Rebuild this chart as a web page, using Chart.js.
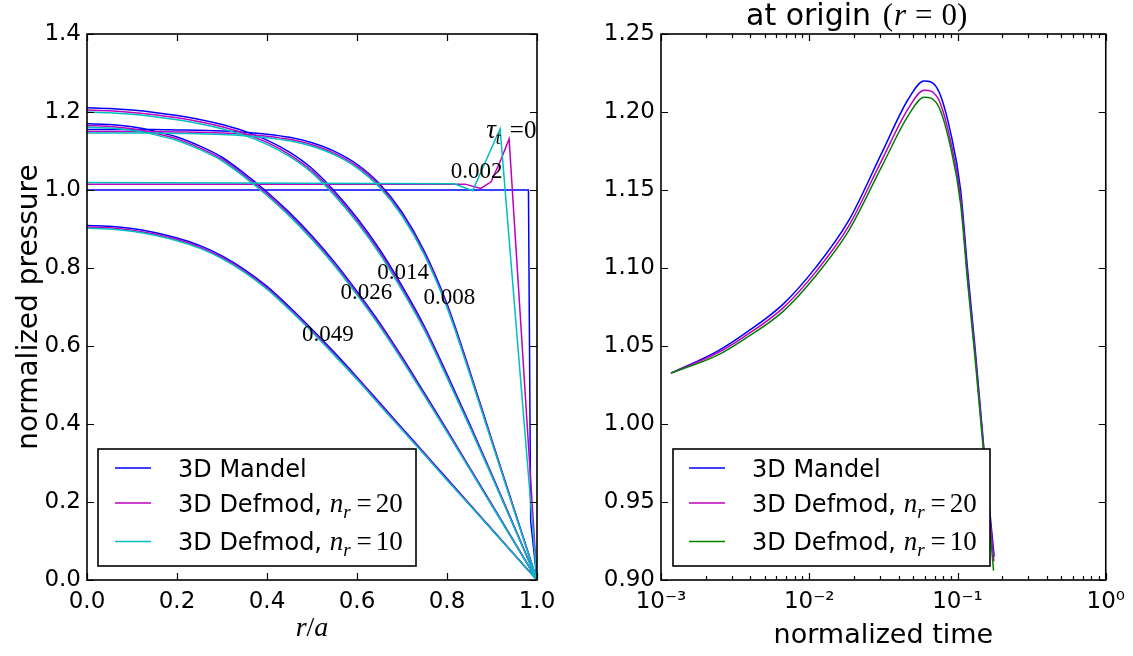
<!DOCTYPE html>
<html><head><meta charset="utf-8">
<script src="https://cdn.jsdelivr.net/npm/chart.js@4/dist/chart.umd.min.js"></script>
<style>
html,body{margin:0;padding:0;background:#fff;}
#wrap{position:relative;width:1133px;height:656px;background:#fff;}
#c1{position:absolute;left:0;top:0;}
#c2{position:absolute;left:566px;top:0;}
</style></head><body>
<div id="wrap"><canvas id="c1" width="566" height="656"></canvas><canvas id="c2" width="567" height="656"></canvas></div>
<script>
// ---------- LEFT PANEL DATA (normalized pressure vs r/a) ----------
const rGrid = [0,0.05,0.1,0.15,0.2,0.25,0.3,0.35,0.4,0.45,0.5,0.55,0.6,0.65,0.7,0.75,0.8,0.85,0.9,0.95,1.0];
// tau = 0.008
const p_mandel_0008 = [1.155,1.155,1.155,1.155,1.154,1.153,1.151,1.148,1.143,1.135,1.121,1.099,1.066,1.016,0.943,0.842,0.708,0.538,0.358,0.179,0];
const p_nr20_0008   = [1.150,1.150,1.150,1.150,1.149,1.148,1.146,1.143,1.138,1.130,1.116,1.094,1.061,1.011,0.938,0.837,0.703,0.534,0.355,0.177,0];
const p_nr10_0008   = [1.146,1.146,1.146,1.146,1.145,1.144,1.142,1.139,1.134,1.126,1.112,1.090,1.057,1.007,0.934,0.833,0.699,0.530,0.352,0.175,0];
// tau = 0.014
const p_mandel_0014 = [1.211,1.209,1.205,1.199,1.191,1.181,1.168,1.151,1.128,1.097,1.055,0.997,0.928,0.848,0.754,0.650,0.528,0.401,0.270,0.136,0];
const p_nr20_0014   = [1.205,1.203,1.199,1.193,1.185,1.175,1.162,1.145,1.122,1.091,1.049,0.991,0.922,0.842,0.748,0.645,0.523,0.397,0.267,0.134,0];
const p_nr10_0014   = [1.200,1.198,1.194,1.188,1.180,1.170,1.157,1.140,1.117,1.086,1.044,0.986,0.917,0.837,0.743,0.640,0.519,0.394,0.265,0.133,0];
// tau = 0.026
const p_mandel_0026 = [1.170,1.168,1.162,1.151,1.136,1.113,1.084,1.042,0.995,0.942,0.882,0.815,0.740,0.660,0.572,0.479,0.385,0.289,0.193,0.097,0];
const p_nr20_0026   = [1.165,1.163,1.157,1.146,1.131,1.108,1.079,1.037,0.990,0.937,0.877,0.810,0.735,0.655,0.568,0.475,0.382,0.287,0.191,0.096,0];
const p_nr10_0026   = [1.161,1.159,1.153,1.142,1.127,1.104,1.075,1.033,0.986,0.933,0.873,0.806,0.731,0.651,0.564,0.472,0.379,0.285,0.190,0.095,0];
// tau = 0.049
const p_mandel_0049 = [0.909,0.907,0.901,0.891,0.877,0.858,0.831,0.796,0.753,0.700,0.643,0.583,0.520,0.455,0.390,0.325,0.260,0.195,0.130,0.065,0];
const p_nr20_0049   = [0.905,0.903,0.897,0.887,0.873,0.854,0.827,0.792,0.749,0.696,0.639,0.579,0.517,0.452,0.387,0.323,0.258,0.194,0.129,0.064,0];
const p_nr10_0049   = [0.902,0.900,0.894,0.884,0.870,0.851,0.824,0.789,0.746,0.693,0.636,0.576,0.514,0.449,0.385,0.321,0.256,0.192,0.128,0.064,0];
// tau = 0
const r_t0_mandel = [0,0.981,0.986,1.0];
const p_t0_mandel = [1.0,1.0,0.15,0];
const r_t0_nr20 = [0,0.84,0.875,0.898,0.92,0.938,1.0];
const p_t0_nr20 = [1.015,1.015,1.004,1.021,1.078,1.131,0];
const r_t0_nr10 = [0,0.816,0.857,0.918,1.0];
const p_t0_nr10 = [1.019,1.016,0.998,1.157,0];
// curve annotations (data coords of left/baseline)
const annText = ['0.002','0.014','0.026','0.008','0.049'];
const annR    = [0.8085,0.645,0.5635,0.7476,0.478];
const annP    = [1.032,0.772,0.720,0.707,0.612];
const tauR = 0.887, tauP = 1.134;
const xTicksLeft = [0,0.2,0.4,0.6,0.8,1.0];
const yTicksLeft = [0,0.2,0.4,0.6,0.8,1.0,1.2,1.4];

// ---------- RIGHT PANEL DATA (pressure at origin vs time) ----------
const t_mandel = [0.001166,0.00239,0.00359,0.00664,0.01107,0.01848,0.0308,0.0464,0.0595,0.0736,0.090,0.105,0.1166,0.132,0.1508,0.1766];
const p_mandel = [1.0326,1.0466,1.0573,1.0767,1.1004,1.1305,1.1736,1.2080,1.2199,1.2145,1.1865,1.1500,1.1004,1.0466,0.984,0.915];
const t_nr20 = [0.001166,0.00239,0.00359,0.00664,0.01107,0.01848,0.0308,0.0464,0.0595,0.0736,0.090,0.105,0.1166,0.132,0.1508,0.1760];
const p_nr20 = [1.0326,1.0455,1.0556,1.0743,1.0975,1.1270,1.1690,1.2020,1.2140,1.2090,1.1810,1.1450,1.0960,1.0430,0.982,0.912];
const t_nr10 = [0.001166,0.00239,0.00359,0.00664,0.01107,0.01848,0.0308,0.0464,0.0595,0.0736,0.090,0.105,0.1166,0.132,0.1508,0.1750];
const p_nr10 = [1.0326,1.0440,1.0540,1.0720,1.0950,1.1240,1.1650,1.1975,1.2095,1.2045,1.1770,1.1410,1.0925,1.0400,0.979,0.906];
const xTicksRight = [0.001,0.01,0.1,1];
const yTicksRight = [0.90,0.95,1.00,1.05,1.10,1.15,1.20,1.25];

// ---------- styles ----------
const BLUE='#0000ff', MAG='#bf00bf', CYAN='#00bfbf', GREEN='#008000';
const SANS='"DejaVu Sans"', SERIF='"Liberation Serif"';

function pts(xs, ys){ return xs.map((x,i)=>({x:x, y:ys[i]})); }
function ds(xs, ys, color, order, smooth){
  return {data:pts(xs,ys), borderColor:color, borderWidth:1.5, pointRadius:0, fill:false,
          order:order, tension:0, cubicInterpolationMode: smooth?'monotone':'default'};
}

const leftDatasets = [
  ds(r_t0_mandel,p_t0_mandel,BLUE,3,false), ds(r_t0_nr20,p_t0_nr20,MAG,2,false), ds(r_t0_nr10,p_t0_nr10,CYAN,1,false),
  ds(rGrid,p_mandel_0008,BLUE,3,true), ds(rGrid,p_nr20_0008,MAG,2,true), ds(rGrid,p_nr10_0008,CYAN,1,true),
  ds(rGrid,p_mandel_0014,BLUE,3,true), ds(rGrid,p_nr20_0014,MAG,2,true), ds(rGrid,p_nr10_0014,CYAN,1,true),
  ds(rGrid,p_mandel_0026,BLUE,3,true), ds(rGrid,p_nr20_0026,MAG,2,true), ds(rGrid,p_nr10_0026,CYAN,1,true),
  ds(rGrid,p_mandel_0049,BLUE,3,true), ds(rGrid,p_nr20_0049,MAG,2,true), ds(rGrid,p_nr10_0049,CYAN,1,true)
];
const rightDatasets = [
  ds(t_mandel,p_mandel,BLUE,3,true), ds(t_nr20,p_nr20,MAG,2,true), ds(t_nr10,p_nr10,GREEN,1,true)
];

function drawRich(ctx, parts, x, y){
  for(const p of parts){ ctx.font=p.f; x+=(p.dx||0); ctx.fillText(p.t, x, y+(p.dy||0)); x+=ctx.measureText(p.t).width; }
}
function richWidth(ctx, parts){
  let w=0; for(const p of parts){ ctx.font=p.f; w+=ctx.measureText(p.t).width+(p.dx||0); } return w;
}
function frameTicks(chart, xMaj, xMin, yMaj){
  const {ctx, chartArea:a, scales:{x,y}} = chart;
  ctx.save(); ctx.strokeStyle='#000'; ctx.lineWidth=1.2;
  ctx.beginPath();
  const xt=(v,L)=>{const p=Math.round(x.getPixelForValue(v))+0.5; ctx.moveTo(p,a.bottom); ctx.lineTo(p,a.bottom-L); ctx.moveTo(p,a.top); ctx.lineTo(p,a.top+L);};
  xMaj.forEach(v=>xt(v,7)); xMin.forEach(v=>xt(v,4));
  yMaj.forEach(v=>{const p=Math.round(y.getPixelForValue(v))+0.5; ctx.moveTo(a.left,p); ctx.lineTo(a.left+7,p); ctx.moveTo(a.right,p); ctx.lineTo(a.right-7,p);});
  ctx.stroke();
  ctx.lineWidth=1.6; ctx.strokeRect(a.left,a.top,a.right-a.left,a.bottom-a.top);
  ctx.restore();
}
function mathLabel(nr){
  return [{t:'3D Defmod, ',f:'24px '+SANS},{t:'n',f:'italic 27px '+SERIF},{t:'r',f:'italic 19px '+SERIF,dy:6},
          {t:'=',f:'27px '+SERIF,dx:6},{t:nr,f:'27px '+SERIF,dx:4}];
}
function legend(ctx, bx, by, bw, bh, colors, sx0, sx1, tx){
  ctx.save();
  ctx.fillStyle='#fff'; ctx.fillRect(bx,by,bw,bh);
  ctx.strokeStyle='#000'; ctx.lineWidth=1.6; ctx.strokeRect(bx,by,bw,bh);
  const rowY=[19,54,92.5];
  const sub=[[{t:'3D Mandel',f:'24px '+SANS}], mathLabel('20'), mathLabel('10')];
  for(let i=0;i<3;i++){
    const yy=by+rowY[i];
    ctx.strokeStyle=colors[i]; ctx.lineWidth=1.5;
    ctx.beginPath(); ctx.moveTo(bx+sx0,yy); ctx.lineTo(bx+sx1,yy); ctx.stroke();
    ctx.fillStyle='#000'; ctx.textBaseline='alphabetic'; ctx.textAlign='left';
    drawRich(ctx, sub[i], bx+tx, yy+8.5);
  }
  ctx.restore();
}

const leftPlugin = {
  id:'leftDeco',
  afterDatasetsDraw(chart){
    const {ctx, scales:{x,y}} = chart;
    ctx.save(); ctx.fillStyle='#000'; ctx.textAlign='left'; ctx.textBaseline='alphabetic';
    ctx.font='23px '+SERIF;
    for(let i=0;i<annText.length;i++) ctx.fillText(annText[i], x.getPixelForValue(annR[i]), y.getPixelForValue(annP[i]));
    drawRich(ctx,[{t:'\u03C4',f:'italic 27px '+SERIF},{t:'t',f:'italic 18px '+SERIF,dy:6},{t:'=0',f:'25px '+SERIF,dx:9}], x.getPixelForValue(tauR), y.getPixelForValue(tauP));
    ctx.restore();
  },
  afterDraw(chart){
    const {ctx, chartArea:a} = chart;
    frameTicks(chart, xTicksLeft, [], yTicksLeft);
    legend(ctx, a.left+11, a.top+415, 318, 117, [BLUE,MAG,CYAN], 17, 53, 80);
    ctx.save(); ctx.fillStyle='#000';
    ctx.translate(37,(a.top+a.bottom)/2); ctx.rotate(-Math.PI/2);
    ctx.textAlign='center'; ctx.textBaseline='alphabetic'; ctx.font='28px '+SANS;
    ctx.fillText('normalized pressure',0,0);
    ctx.restore();
    ctx.save(); ctx.fillStyle='#000'; ctx.textBaseline='alphabetic';
    const parts=[{t:'r',f:'italic 28px '+SERIF},{t:'/',f:'28px '+SERIF},{t:'a',f:'italic 28px '+SERIF}];
    const w=richWidth(ctx,parts); drawRich(ctx,parts,(a.left+a.right)/2-w/2,636);
    ctx.restore();
  }
};
const minorRight=[];
[0.001,0.01,0.1].forEach(d=>{for(let k=2;k<=9;k++) minorRight.push(d*k);});
const rightPlugin = {
  id:'rightDeco',
  afterDraw(chart){
    const {ctx, chartArea:a} = chart;
    frameTicks(chart, xTicksRight, minorRight, yTicksRight);
    legend(ctx, a.left+12, a.top+415, 317, 117, [BLUE,MAG,GREEN], 16, 52, 79);
    ctx.save(); ctx.fillStyle='#000'; ctx.textBaseline='alphabetic'; ctx.textAlign='left';
    const tparts=[{t:'at origin ',f:'30px '+SANS},{t:'(',f:'31px '+SERIF,dx:2},{t:'r',f:'italic 31px '+SERIF,dx:1},{t:'=',f:'31px '+SERIF,dx:9},{t:'0)',f:'31px '+SERIF,dx:9}];
    drawRich(ctx,tparts,a.left+85,25);
    ctx.font='27px '+SANS; ctx.textAlign='center';
    ctx.fillText('normalized time',(a.left+a.right)/2,643);
    ctx.restore();
  }
};

const supMap={'-3':'10\u207B\u00B3','-2':'10\u207B\u00B2','-1':'10\u207B\u00B9','0':'10\u2070'};
function baseOpts(xScale, yScale, pad){
  return {responsive:false, animation:false, devicePixelRatio:1,
    layout:{padding:pad},
    plugins:{legend:{display:false}, tooltip:{enabled:false}, title:{display:false}},
    elements:{point:{radius:0}},
    scales:{x:xScale, y:yScale}};
}
const tickFont={family:'DejaVu Sans', size:23};

new Chart(document.getElementById('c1'), {
  type:'line',
  data:{datasets:leftDatasets},
  options: baseOpts(
    {type:'linear', min:0, max:1, grid:{display:false, drawTicks:false}, border:{display:false},
     afterFit:s=>{s.height=76;}, afterBuildTicks:s=>{s.ticks=xTicksLeft.map(v=>({value:v}));},
     ticks:{font:tickFont, color:'#000', padding:8, maxRotation:0, autoSkip:false, callback:v=>Number(v).toFixed(1)}},
    {type:'linear', min:0, max:1.4, grid:{display:false, drawTicks:false}, border:{display:false},
     afterFit:s=>{s.width=87;}, afterBuildTicks:s=>{s.ticks=yTicksLeft.map(v=>({value:v}));},
     ticks:{font:tickFont, color:'#000', padding:6, autoSkip:false, callback:v=>Number(v).toFixed(1)}},
    {top:34, right:29, left:0, bottom:0}),
  plugins:[leftPlugin]
});

new Chart(document.getElementById('c2'), {
  type:'line',
  data:{datasets:rightDatasets},
  options: baseOpts(
    {type:'logarithmic', min:0.001, max:1, grid:{display:false, drawTicks:false}, border:{display:false},
     afterFit:s=>{s.height=76;}, afterBuildTicks:s=>{s.ticks=xTicksRight.map(v=>({value:v}));},
     ticks:{font:tickFont, color:'#000', padding:8, maxRotation:0, autoSkip:false, callback:v=>supMap[String(Math.round(Math.log10(v)))]}},
    {type:'linear', min:0.9, max:1.25, grid:{display:false, drawTicks:false}, border:{display:false},
     afterFit:s=>{s.width=95;}, afterBuildTicks:s=>{s.ticks=yTicksRight.map(v=>({value:v}));},
     ticks:{font:tickFont, color:'#000', padding:6, autoSkip:false, callback:v=>Number(v).toFixed(2)}},
    {top:34, right:23, left:0, bottom:0}),
  plugins:[rightPlugin]
});
</script>
</body></html>
